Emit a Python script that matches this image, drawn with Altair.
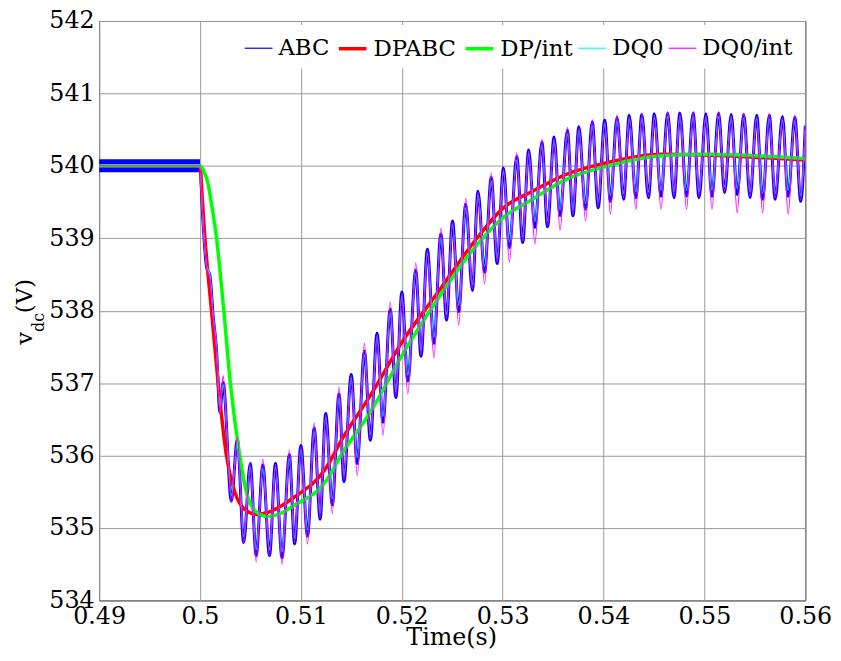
import altair as alt
import pandas as pd

# ---------------- data ----------------
series_names = ["ABC", "DPABC", "DP/int", "DQ0", "DQ0/int"]
series_colors = ["#0000FF", "#FF0000", "#00FF00", "#00FFFF", "#FF00FF"]
series_widths = [1.2, 3.5, 3.5, 1.2, 1.2]

x_ticks = [0.49, 0.50, 0.51, 0.52, 0.53, 0.54, 0.55, 0.56]
y_ticks = [534, 535, 536, 537, 538, 539, 540, 541, 542]

# time points of the oscillating (ABC / DQ0 / DQ0-int) traces: extremes
time_osc = [0.49, 0.5, 0.50025, 0.50065, 0.50098, 0.50131, 0.50164, 0.50197, 0.50229,
            0.50311, 0.50370, 0.50433, 0.50498, 0.50557, 0.50623, 0.50689, 0.50748, 0.50813, 0.50886,
            0.50938, 0.51000, 0.51066, 0.51132, 0.51191, 0.51246, 0.51312, 0.51378, 0.51427, 0.51499,
            0.51558, 0.51630, 0.51689, 0.51755, 0.51814, 0.51886, 0.51942, 0.52001, 0.52060, 0.52139,
            0.52191, 0.52254, 0.52319, 0.52388, 0.52444, 0.52503, 0.52565, 0.52634, 0.52700, 0.52756,
            0.52821, 0.52887, 0.52946, 0.53008, 0.53067, 0.53140, 0.53199, 0.53258, 0.53320, 0.53389,
            0.53445, 0.53510, 0.53569, 0.53642, 0.53697, 0.53756, 0.53822, 0.53888, 0.53947, 0.54012,
            0.54068, 0.54134, 0.54199, 0.54255, 0.54321, 0.54380, 0.54445, 0.54504, 0.54570, 0.54636,
            0.54698, 0.54757, 0.54823, 0.54888, 0.54947, 0.55015, 0.55075, 0.55141, 0.55200, 0.55266,
            0.55325, 0.55390, 0.55453, 0.55518, 0.55577, 0.55643, 0.55702, 0.55774, 0.55830, 0.55896,
            0.55955, 0.56000]

abc = [540.0, 540.0, 539.35, 538.6, 538.49, 537.92, 537.46, 536.60, 537.01,
       535.37, 536.23, 534.80, 535.89, 534.62, 535.87, 534.62, 535.89, 534.59, 536.01,
       534.78, 536.14, 534.89, 536.38, 535.12, 536.58, 535.32, 536.85, 535.64, 537.12,
       535.89, 537.44, 536.21, 537.69, 536.46, 538.02, 536.80, 538.26, 537.03, 538.56,
       537.37, 538.85, 537.55, 539.06, 537.87, 539.24, 537.99, 539.47, 538.28, 539.65,
       538.53, 539.84, 538.65, 539.97, 538.87, 540.13, 538.94, 540.22, 539.15, 540.33,
       539.16, 540.40, 539.31, 540.49, 539.31, 540.54, 539.40, 540.61, 539.42, 540.63,
       539.51, 540.67, 539.54, 540.70, 539.56, 540.71, 539.56, 540.72, 539.58, 540.73,
       539.56, 540.73, 539.58, 540.73, 539.56, 540.72, 539.58, 540.73, 539.63, 540.71,
       539.60, 540.71, 539.56, 540.70, 539.54, 540.70, 539.54, 540.68, 539.58, 540.67,
       539.51, 540.55]

dq0 = [540.0, 540.0, 539.35, 538.62, 538.5, 537.95, 537.5, 536.68, 536.98,
       535.45, 536.18, 534.88, 535.84, 534.70, 535.82, 534.70, 535.84, 534.67, 535.96,
       534.86, 536.09, 534.97, 536.33, 535.20, 536.53, 535.40, 536.80, 535.72, 537.07,
       535.97, 537.39, 536.29, 537.64, 536.54, 537.97, 536.88, 538.21, 537.11, 538.51,
       537.45, 538.80, 537.63, 539.01, 537.95, 539.19, 538.07, 539.42, 538.36, 539.60,
       538.61, 539.79, 538.73, 539.92, 538.95, 540.08, 539.02, 540.17, 539.23, 540.28,
       539.24, 540.35, 539.39, 540.44, 539.39, 540.49, 539.48, 540.56, 539.50, 540.58,
       539.59, 540.62, 539.62, 540.65, 539.64, 540.66, 539.64, 540.67, 539.66, 540.68,
       539.64, 540.68, 539.66, 540.68, 539.64, 540.67, 539.66, 540.68, 539.71, 540.66,
       539.68, 540.66, 539.64, 540.65, 539.62, 540.65, 539.62, 540.63, 539.66, 540.62,
       539.59, 540.50]

dq0_int = [540.0, 540.0, 539.35, 538.6, 538.45, 537.92, 537.45, 536.58, 537.10,
           535.35, 536.25, 534.80, 535.90, 534.53, 535.95, 534.62, 535.88, 534.50, 536.08,
           534.80, 536.12, 534.78, 536.45, 535.14, 536.56, 535.20, 536.95, 535.66, 537.10,
           535.72, 537.55, 536.23, 537.67, 536.28, 538.12, 536.82, 538.24, 536.85, 538.66,
           537.39, 538.83, 537.35, 539.14, 537.89, 539.22, 537.80, 539.55, 538.30, 539.63,
           538.37, 539.90, 538.67, 539.95, 538.67, 540.18, 538.96, 540.20, 538.92, 540.37,
           539.18, 540.38, 539.11, 540.53, 539.33, 540.52, 539.24, 540.64, 539.44, 540.61,
           539.33, 540.70, 539.56, 540.68, 539.40, 540.73, 539.58, 540.70, 539.40, 540.75,
           539.58, 540.71, 539.40, 540.75, 539.58, 540.70, 539.40, 540.75, 539.65, 540.69,
           539.35, 540.73, 539.58, 540.68, 539.35, 540.72, 539.56, 540.66, 539.33, 540.70,
           539.53, 540.58]

time_dpabc = [0.49, 0.5, 0.50020, 0.50049, 0.50114, 0.50180, 0.50262, 0.50344, 0.50450,
              0.50557, 0.50680, 0.50800, 0.50918, 0.51246, 0.51410, 0.51689, 0.52018,
              0.52352, 0.52739, 0.53008, 0.53297, 0.53625, 0.54019, 0.54577, 0.55000,
              0.55500, 0.56000]
dpabc = [540.0, 540.0, 539.6, 539.0, 538.0, 537.0, 536.0, 535.5, 535.25,
         535.19, 535.22, 535.30, 535.41, 535.82, 536.23, 536.83, 537.6,
         538.24, 538.99, 539.42, 539.65, 539.88, 540.04, 540.16, 540.15,
         540.12, 540.08]

time_dpint = [0.49, 0.5, 0.50040, 0.50082, 0.50120, 0.50164, 0.50236, 0.50301, 0.50394,
              0.50459, 0.50560, 0.50672, 0.50800, 0.50918, 0.51246, 0.51410, 0.51689,
              0.52018, 0.52352, 0.52739, 0.53000, 0.53297, 0.53625, 0.54019, 0.54577,
              0.55000, 0.55500, 0.56000]
dp_int = [540.0, 540.0, 539.92, 539.74, 539.42, 539.0, 538.0, 537.0, 536.0,
          535.5, 535.22, 535.16, 535.2, 535.30, 535.64, 536.03, 536.60,
          537.42, 538.15, 538.90, 539.28, 539.54, 539.81, 539.99, 540.14,
          540.16, 540.14, 540.10]

# switching-ripple envelope of ABC before the step
band_time = [0.49, 0.50]
band_low = [539.91, 539.91]
band_high = [540.09, 540.09]

y_title_main = ["v", "(V)"]
y_title_sub = ["dc"]
x_title = ["Time(s)"]

FONT = "DejaVu Serif"

# ---------------- chart ----------------
def frame(t, v, name):
    return pd.DataFrame({"t": t, "v": v, "series": name})

yscale = alt.Scale(domain=[534, 542], nice=False, zero=False)
x_enc = alt.X("t:Q", scale=alt.Scale(domain=[0.49, 0.56], nice=False, zero=False),
              axis=alt.Axis(values=x_ticks, format=".2~f", title=None, labelFlush=False,
                            labelOverlap=False, labelPadding=4,
                            labelFont=FONT, labelFontSize=24, labelColor="black"))
y_enc = alt.Y("v:Q", scale=yscale,
              axis=alt.Axis(values=y_ticks, format="d", title=None, labelFlush=False,
                            labelOverlap=False, labelPadding=5,
                            labelFont=FONT, labelFontSize=24, labelColor="black"))

legend = alt.Legend(title=None, orient="none", legendX=138, legendY=4, direction="horizontal",
                    symbolType="stroke", symbolSize=784, labelFont=FONT, labelFontSize=23,
                    labelColor="black", fillColor="white", padding=8, columnPadding=2,
                    labelOffset=5, labelLimit=0)
color_enc = alt.Color("series:N", scale=alt.Scale(domain=series_names, range=series_colors),
                      legend=legend)
width_enc = alt.StrokeWidth("series:N", scale=alt.Scale(type="ordinal", domain=series_names,
                                                          range=series_widths), legend=legend)

band = alt.Chart(pd.DataFrame({"t": band_time, "lo": band_low, "hi": band_high})).mark_area(
    color="#0000FF", opacity=1).encode(x=x_enc, y=alt.Y("lo:Q", scale=yscale), y2="hi:Q")

abc_thick = alt.Chart(frame(time_osc, abc, "ABC")).mark_line(
    interpolate="monotone", clip=True, color="#0000FF", strokeWidth=3).encode(x=x_enc, y=y_enc)

def series_layer(df):
    return alt.Chart(df).mark_line(interpolate="monotone", clip=True).encode(
        x=x_enc, y=y_enc, color=color_enc, strokeWidth=width_enc)

layers = [
    band,
    abc_thick,
    series_layer(frame(time_osc, abc, "ABC")),
    series_layer(frame(time_dpabc, dpabc, "DPABC")),
    series_layer(frame(time_dpint, dp_int, "DP/int")),
    series_layer(frame(time_osc, dq0, "DQ0")),
    series_layer(frame(time_osc, dq0_int, "DQ0/int")),
]

def label(text, x, y, size, angle=0, align="left"):
    mk = dict(align=align, baseline="alphabetic", font=FONT, fontSize=size, color="black")
    if angle:
        mk["angle"] = angle
    return alt.Chart(pd.DataFrame({"s": text})).mark_text(**mk).encode(
        x=alt.value(x), y=alt.value(y), text="s:N")

txt_v = label([y_title_main[0]], -68, 327, 23, 270)
txt_dc = label(y_title_sub, -56, 314, 16, 270)
txt_V = label([y_title_main[1]], -68, 295, 23, 270)
txt_x = label(x_title, 356, 630, 24, 0, "center")

chart = alt.layer(*layers, txt_v, txt_dc, txt_V, txt_x).properties(
    width=713, height=585,
    autosize=alt.AutoSizeParams(type="none"),
    padding={"left": 92, "top": 10, "right": 28, "bottom": 50},
    background="white",
).configure_view(stroke="black", strokeWidth=1).configure_axis(
    grid=True, gridColor="#9a9a9a", gridWidth=1, ticks=False, domain=False,
    labelFont=FONT, labelFontSize=24, labelColor="black",
).configure_legend(labelFont=FONT)

chart.save("out.html", embed_options={"renderer": "svg", "actions": False})
